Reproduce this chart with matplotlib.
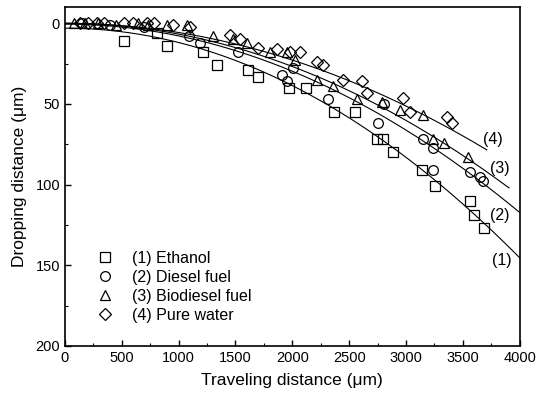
import numpy as np
import matplotlib.pyplot as plt

plt.rcParams['font.family'] = ['Liberation Sans', 'DejaVu Sans']

# (1) Ethanol
eth_x = [521, 811, 894, 1211, 1334, 1606, 1699, 1972, 2119, 2365, 2550, 2745, 2795,
         2885, 3140, 3253, 3560, 3600, 3690]
eth_y = [11, 6, 14, 18, 26, 29, 33, 40, 40, 55, 55, 72, 72, 80, 91, 101, 110, 119, 127]

# (2) Diesel fuel
die_x = [150, 400, 700, 1090, 1187, 1521, 1908, 1952, 2004, 2312, 2752, 2810, 3147,
         3235, 3235, 3560, 3648, 3675]
die_y = [0, 1, 2, 8, 12, 18, 32, 36, 28, 47, 62, 50, 72, 77, 91, 92, 95, 98]

# (3) Biodiesel fuel
bio_x = [80, 180, 290, 450, 640, 730, 900, 1073, 1301, 1477, 1600, 1802, 1952, 2022,
         2215, 2356, 2567, 2787, 2945, 3147, 3235, 3332, 3543]
bio_y = [0, 0, 0, 1, 0, 1, 1, 1, 8, 10, 12, 18, 18, 23, 35, 39, 47, 49, 54, 57, 72,
         74, 83]

# (4) Pure water
wat_x = [130, 200, 280, 340, 520, 600, 720, 780, 950, 1099, 1451, 1538, 1697, 1864,
         1978, 2066, 2215, 2268, 2444, 2611, 2655, 2971, 3033, 3358, 3402]
wat_y = [0, 0, 0, 0, 0, 0, 0, 0, 1, 2, 7, 10, 15, 16, 18, 18, 24, 26, 35, 36, 43, 46,
         55, 58, 62]

# fitted curves y = c0 + c2 * x^2, drawn up to x_end
fit_c0 = [3, 0.5, 0, 0]
fit_c2 = [8.9e-6, 7.3e-6, 6.69e-6, 5.7e-6]
fit_end = [4000, 4000, 3905, 3710]
fit_labels = ['(1)', '(2)', '(3)', '(4)']
label_x = [3842, 3824, 3824, 3763]
label_y = [147, 119, 90, 72]

names = ['(1) Ethanol', '(2) Diesel fuel', '(3) Biodiesel fuel', '(4) Pure water']
markers = ['s', 'o', '^', 'D']
xs = [eth_x, die_x, bio_x, wat_x]
ys = [eth_y, die_y, bio_y, wat_y]

fig = plt.figure(figsize=(5.5, 3.99), dpi=100)
ax = fig.add_axes([0.118, 0.133, 0.827, 0.849])

for x, y, m, n in zip(xs, ys, markers, names):
    ms = 6 if m == 'D' else 7
    ax.plot(x, y, linestyle='none', marker=m, markersize=ms, markerfacecolor='none',
            markeredgecolor='black', markeredgewidth=0.9, label=n)

for c0, c2, xe, lab, lx, ly in zip(fit_c0, fit_c2, fit_end, fit_labels, label_x, label_y):
    xx = np.linspace(0, xe, 200)
    ax.plot(xx, c0 + c2 * xx ** 2, color='black', linewidth=0.8)
    ax.text(lx, ly, lab, fontsize=11.5, ha='center', va='center')

ax.set_xlim(0, 4000)
ax.set_ylim(200, -10)
ax.set_xticks(np.arange(0, 4001, 500))
ax.set_xticks(np.arange(250, 4000, 500), minor=True)
ax.set_yticks(np.arange(0, 201, 50))
ax.set_yticks(np.arange(25, 200, 50), minor=True)
ax.tick_params(direction='in', labelsize=10.5, length=4, width=1)
ax.tick_params(which='minor', direction='in', length=2.5, width=0.8)
for s in ax.spines.values():
    s.set_linewidth(1.2)

ax.set_xlabel('Traveling distance (\u03bcm)', fontsize=12.5, labelpad=6)
ax.set_ylabel('Dropping distance (\u03bcm)', fontsize=12.5, labelpad=6)

ax.legend(loc='upper left', bbox_to_anchor=(0.049, 0.305), frameon=False, fontsize=11.5,
          handlelength=1.2, handletextpad=1.1, labelspacing=0.25, borderpad=0)

fig.savefig('out.png', dpi=100)
